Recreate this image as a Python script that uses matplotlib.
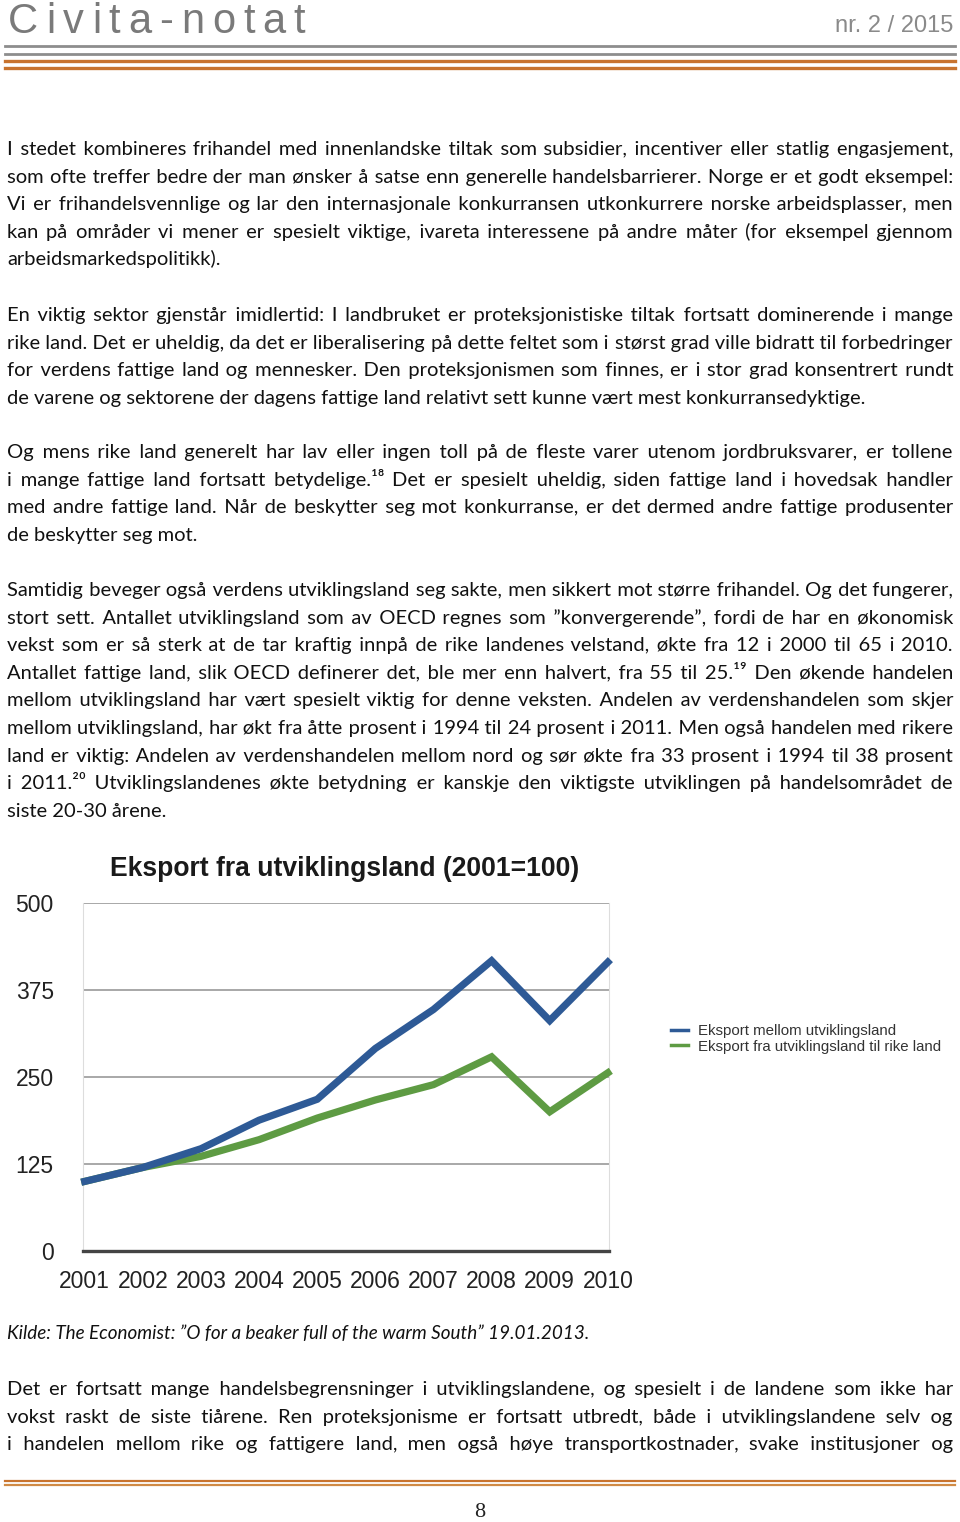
import matplotlib
matplotlib.use("Agg")
import matplotlib.pyplot as plt
from matplotlib import font_manager
from matplotlib.lines import Line2D

# chart data
years = [2001, 2002, 2003, 2004, 2005, 2006, 2007, 2008, 2009, 2010]
mellom = [100, 120, 147, 188, 218, 291, 347, 417, 331, 415]
til_rike = [100, 120, 136, 160, 191, 217, 239, 279, 200, 256]
series_names = ["Eksport mellom utviklingsland", "Eksport fra utviklingsland til rike land"]
yticks = [0, 125, 250, 375, 500]
chart_title = "Eksport fra utviklingsland (2001=100)"

header_left = "Civita-notat"
header_right = "nr. 2 / 2015"
page_no = "8"
source = "Kilde: The Economist: \u201dO for a beaker full of the warm South\u201d 19.01.2013."

# body text, one entry per printed line (first line y, lines, justify last line?)
paragraphs = [
    (148, [
        "I stedet kombineres frihandel med innenlandske tiltak som subsidier, incentiver eller statlig engasjement,",
        "som ofte treffer bedre der man ønsker å satse enn generelle handelsbarrierer. Norge er et godt eksempel:",
        "Vi er frihandelsvennlige og lar den internasjonale konkurransen utkonkurrere norske arbeidsplasser, men",
        "kan på områder vi mener er spesielt viktige, ivareta interessene på andre måter (for eksempel gjennom",
        "arbeidsmarkedspolitikk).",
    ], False),
    (314, [
        "En viktig sektor gjenstår imidlertid: I landbruket er proteksjonistiske tiltak fortsatt dominerende i mange",
        "rike land. Det er uheldig, da det er liberalisering på dette feltet som i størst grad ville bidratt til forbedringer",
        "for verdens fattige land og mennesker. Den proteksjonismen som finnes, er i stor grad konsentrert rundt",
        "de varene og sektorene der dagens fattige land relativt sett kunne vært mest konkurransedyktige.",
    ], False),
    (451, [
        "Og mens rike land generelt har lav eller ingen toll på de fleste varer utenom jordbruksvarer, er tollene",
        "i mange fattige land fortsatt betydelige.\u00b9\u2078 Det er spesielt uheldig, siden fattige land i hovedsak handler",
        "med andre fattige land. Når de beskytter seg mot konkurranse, er det dermed andre fattige produsenter",
        "de beskytter seg mot.",
    ], False),
    (589, [
        "Samtidig beveger også verdens utviklingsland seg sakte, men sikkert mot større frihandel. Og det fungerer,",
        "stort sett. Antallet utviklingsland som av OECD regnes som \u201dkonvergerende\u201d, fordi de har en økonomisk",
        "vekst som er så sterk at de tar kraftig innpå de rike landenes velstand, økte fra 12 i 2000 til 65 i 2010.",
        "Antallet fattige land, slik OECD definerer det, ble mer enn halvert, fra 55 til 25.\u00b9\u2079 Den økende handelen",
        "mellom utviklingsland har vært spesielt viktig for denne veksten. Andelen av verdenshandelen som skjer",
        "mellom utviklingsland, har økt fra åtte prosent i 1994 til 24 prosent i 2011. Men også handelen med rikere",
        "land er viktig: Andelen av verdenshandelen mellom nord og sør økte fra 33 prosent i 1994 til 38 prosent",
        "i 2011.\u00b2\u2070 Utviklingslandenes økte betydning er kanskje den viktigste utviklingen på handelsområdet de",
        "siste 20-30 årene.",
    ], False),
    (1388, [
        "Det er fortsatt mange handelsbegrensninger i utviklingslandene, og spesielt i de landene som ikke har",
        "vokst raskt de siste tiårene. Ren proteksjonisme er fortsatt utbredt, både i utviklingslandene selv og",
        "i handelen mellom rike og fattigere land, men også høye transportkostnader, svake institusjoner og",
    ], True),
]

W, H = 960, 1522
LEADING = 27.6
X0, X1 = 7, 953

installed = {f.name for f in font_manager.fontManager.ttflist}
def pick(*names):
    for n in names:
        if n in installed:
            return n
    return "DejaVu Sans"

BODY = [pick("Lato", "Open Sans", "Noto Sans"), "DejaVu Sans"]
NARROW = pick("Liberation Sans Narrow", "Liberation Sans")
HELV = pick("Liberation Sans", "DejaVu Sans")
SERIF = pick("Liberation Serif", "DejaVu Serif")
TXT = "#111111"
GREY = "#8d8d8d"
ORANGE = "#c8732e"
BLUE = "#2e5a96"
GREEN = "#5e9b43"
HAIR = "\u200a"

fig = plt.figure(figsize=(W / 100, H / 100), dpi=100)
renderer = fig.canvas.get_renderer()


def fx(x):
    return x / W


def fy(y):
    return 1 - y / H


def text_w(s, **kw):
    t = fig.text(0, 0, s, **kw)
    w = t.get_window_extent(renderer).width
    t.remove()
    return w


def draw_line(line, yc, size, justify):
    kw = dict(family=BODY, fontsize=size)
    words = line.split(" ")
    s = line
    if justify and len(words) > 1:
        sp = text_w("a a", **kw) - text_w("aa", **kw)
        hs = text_w("a" + HAIR + "a", **kw) - text_w("aa", **kw)
        extra = (X1 - X0) - text_w(line, **kw)
        n = len(words) - 1
        done = 0.0
        gaps = []
        for i in range(n):
            want = extra * (i + 1) / n - done
            k = int(want // sp) if want > 0 else 0
            rem = want - k * sp
            m = int(round(rem / hs)) if hs > 0.2 and rem > 0 else 0
            gaps.append(" " * (k + 1) + HAIR * m)
            done += k * sp + m * hs
        s = words[0] + "".join(g + w for g, w in zip(gaps, words[1:]))
    fig.text(fx(X0), fy(yc + 7), s, color=TXT, va="baseline", **kw)


# body size: the fullest justified line must fit with plain spaces
ref = 14.0
need = 0
for y0, lines, last_just in paragraphs:
    for i, line in enumerate(lines):
        if i < len(lines) - 1 or last_just:
            need = max(need, text_w(line, family=BODY, fontsize=ref))
body_size = min(14.5, ref * (X1 - X0) / need * 0.998)

for y0, lines, last_just in paragraphs:
    for i, line in enumerate(lines):
        just = i < len(lines) - 1 or last_just
        draw_line(line, y0 + i * LEADING, body_size, just)

# source line, italic, same span as in the reference
src_size = 12.0
src_size = src_size * 581 / text_w(source, family=BODY, fontsize=src_size, style="italic")
fig.text(fx(X0), fy(1333 + 6), source, family=BODY, fontsize=src_size, style="italic",
         color=TXT, va="baseline")

# header: letter-spaced title
hsize = 30
cw = [text_w(c, family=NARROW, fontsize=hsize) for c in header_left]
track = (305 - 8 - sum(cw)) / (len(header_left) - 1)
x = 8
for c, w in zip(header_left, cw):
    fig.text(fx(x), fy(33), c, family=NARROW, fontsize=hsize, color="#7a7a7a", va="baseline")
    x += w + track
fig.text(fx(953), fy(32), header_right, family=NARROW, fontsize=17, color="#8a8a8a",
         ha="right", va="baseline")

for yy, col, lw in [(46, GREY, 2.0), (54, GREY, 2.0), (61, ORANGE, 2.4), (68, ORANGE, 2.4)]:
    fig.add_artist(Line2D([fx(5), fx(955)], [fy(yy), fy(yy)], color=col, lw=lw))
for yy, col, lw in [(1481, ORANGE, 1.6), (1485, "#d08a45", 1.6)]:
    fig.add_artist(Line2D([fx(5), fx(955)], [fy(yy), fy(yy)], color=col, lw=lw))
fig.text(0.5, fy(1517), page_no, family=SERIF, fontsize=16, color="#222222",
         ha="center", va="baseline")

# chart
ax = fig.add_axes([fx(83), fy(1251), fx(609) - fx(83), (1251 - 903) / H])
ax.plot(years, mellom, color=BLUE, lw=5.2, solid_joinstyle="miter", clip_on=False,
        label=series_names[0], zorder=4)
ax.plot(years, til_rike, color=GREEN, lw=5.2, solid_joinstyle="miter", clip_on=False,
        label=series_names[1], zorder=3)
ax.set_xlim(years[0] - 0.03, years[-1] + 0.02)
ax.set_ylim(yticks[0], yticks[-1])
ax.set_yticks(yticks)
ax.set_yticklabels([str(v) for v in yticks])
ax.set_xticks(years)
ax.set_xticklabels([str(v) for v in years])
ax.grid(axis="y", color="#9a9a9a", lw=1.2)
ax.set_axisbelow(True)
ax.tick_params(length=0, labelsize=16.5, labelcolor="#222222")
ax.tick_params(axis="y", pad=21)
ax.tick_params(axis="x", pad=14)
for lab in ax.get_xticklabels() + ax.get_yticklabels():
    lab.set_family(HELV)
ax.spines["top"].set_visible(False)
ax.spines["left"].set_color("#dddddd")
ax.spines["right"].set_color("#dddddd")
ax.spines["bottom"].set_color("#444444")
ax.spines["bottom"].set_linewidth(2.4)
ax.spines["bottom"].set_zorder(5)

tsize = 21
tw = text_w(chart_title, family=HELV, fontsize=tsize, weight="bold")
tsize = tsize * 470 / tw
fig.text(fx(345), fy(876), chart_title, family=HELV, fontsize=tsize, weight="bold",
         color="#1a1a1a", ha="center", va="baseline")

handles = [Line2D([], [], color=BLUE, lw=2.5), Line2D([], [], color=GREEN, lw=2.5)]
fig.legend(handles, series_names, loc="upper left", bbox_to_anchor=(fx(671), fy(1024)),
           frameon=False, prop={"family": HELV, "size": 10.8}, labelcolor="#333333",
           handlelength=1.15, handletextpad=0.65, labelspacing=0.1, borderpad=0,
           borderaxespad=0)

fig.savefig("out.png", dpi=100)
